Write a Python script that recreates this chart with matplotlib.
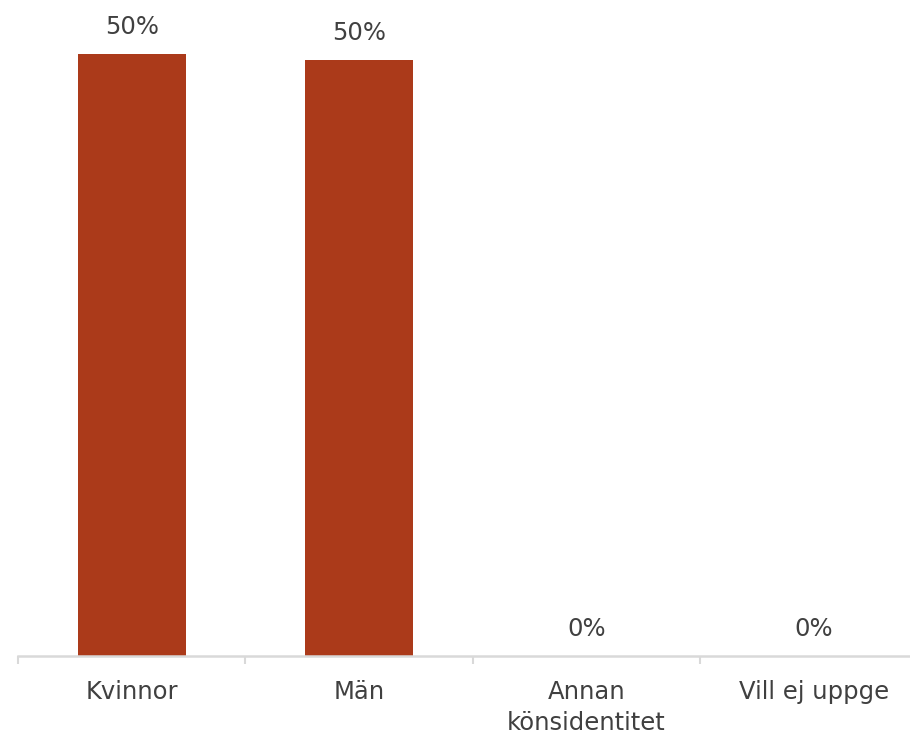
import matplotlib
matplotlib.use("Agg")
import matplotlib.pyplot as plt
import numpy as np

categories = ["Kvinnor", "Män", "Annan\nkönsidentitet", "Vill ej uppge"]
values = [50.25, 49.75, 0.0, 0.0]
labels = ["50%", "50%", "0%", "0%"]

plt.rcParams['font.family'] = ['DejaVu Sans']

W, H = 910, 737
fig = plt.figure(figsize=(W / 100, H / 100), dpi=100)
ax = fig.add_axes([18 / W, (H - 656) / H, 909.5 / W, 656 / H])

x = np.arange(len(categories))
bars = ax.bar(x, values, width=0.475, color="#AB3A1A", zorder=2)
ax.set_xlim(-0.5, len(categories) - 0.5)
ax.set_ylim(0, 54.8)

for xi, v, lab in zip(x, values, labels):
    ax.annotate(lab, (xi, v), xytext=(0, 11), textcoords="offset points",
                ha="center", va="bottom", fontsize=17.5, color="#404040")

for s in ["top", "right", "left"]:
    ax.spines[s].set_visible(False)
ax.spines["bottom"].set_color("#D9D9D9")
ax.spines["bottom"].set_linewidth(1.8)
ax.set_yticks([])
ax.set_xticks(x)
ax.set_xticklabels(categories, fontsize=17.5, color="#404040", linespacing=1.4)
ax.tick_params(axis="x", which="major", length=0, pad=17)
ax.set_xticks(np.arange(-0.5, len(categories)), minor=True)
ax.tick_params(axis="x", which="minor", length=6, width=1.5, color="#D9D9D9")

fig.savefig("out.png", dpi=100)
